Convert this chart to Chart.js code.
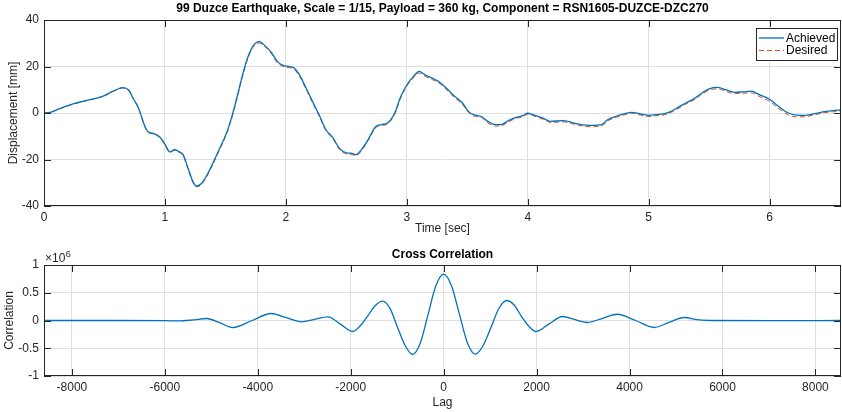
<!DOCTYPE html>
<html>
<head>
<meta charset="utf-8">
<script src="https://cdn.jsdelivr.net/npm/chart.js@4.4.1/dist/chart.umd.min.js"></script>
<style>
  html, body { margin: 0; padding: 0; background: #ffffff; }
  #wrap { position: relative; width: 842px; height: 412px; overflow: hidden; }
  canvas { position: absolute; left: 0; }
  #c1 { top: 0; }
  #c2 { top: 236px; }
</style>
</head>
<body>
<div id="wrap">
  <canvas id="c1" width="842" height="236"></canvas>
  <canvas id="c2" width="842" height="176"></canvas>
</div>
<script>
// ---------- Data ----------
const timeSec = [
  0, 0.05, 0.13, 0.24, 0.32, 0.41, 0.49, 0.54, 0.60, 0.65,
  0.70, 0.74, 0.78, 0.80, 0.83, 0.86, 0.91, 0.96, 1.00, 1.04,
  1.08, 1.12, 1.15, 1.19, 1.23, 1.26, 1.30, 1.34, 1.40, 1.45,
  1.51, 1.55, 1.59, 1.63, 1.66, 1.69, 1.73, 1.78, 1.82, 1.88,
  1.93, 1.99, 2.06, 2.11, 2.17, 2.22, 2.28, 2.33, 2.39, 2.44,
  2.50, 2.54, 2.58, 2.62, 2.68, 2.74, 2.79, 2.84, 2.90, 2.95,
  3.01, 3.06, 3.10, 3.16, 3.21, 3.28, 3.34, 3.39, 3.46, 3.51,
  3.55, 3.62, 3.67, 3.73, 3.78, 3.84, 3.90, 3.96, 4.00, 4.04,
  4.12, 4.19, 4.29, 4.36, 4.44, 4.52, 4.61, 4.66, 4.73, 4.80,
  4.86, 4.93, 5.01, 5.06, 5.13, 5.18, 5.24, 5.31, 5.38, 5.43,
  5.50, 5.57, 5.64, 5.71, 5.78, 5.85, 5.91, 6.00, 6.07, 6.15,
  6.22, 6.29, 6.37, 6.45, 6.52, 6.59
];
const achievedMm = [
  0, 0.3, 1.9, 3.9, 5.0, 6.1, 7.3, 8.6, 10.1, 10.9,
  9.9, 6.0, 2.4, -0.6, -5.2, -8.1, -8.9, -10.4, -13.4, -16.7,
  -15.8, -16.7, -17.9, -23.6, -29.3, -31.4, -30.4, -27.4, -21.2, -15.5,
  -8.5, -2.1, 5.6, 14.0, 19.8, 24.6, 29.0, 30.7, 29.3, 26.1,
  22.1, 20.3, 19.6, 16.6, 10.4, 5.0, -1.4, -7.1, -10.7, -15.0,
  -17.1, -17.3, -17.9, -16.1, -11.4, -6.0, -5.0, -4.3, 0.0, 7.1,
  12.9, 16.0, 17.9, 16.1, 15.0, 12.9, 10.0, 7.4, 4.3, 0.7,
  -0.7, -1.6, -3.6, -5.0, -5.0, -3.3, -1.9, -1.1, -0.1, -0.7,
  -2.1, -3.6, -3.3, -4.0, -5.0, -5.3, -5.0, -2.9, -1.4, -0.3,
  0.3, -0.4, -1.0, -0.7, -0.3, 0.6, 2.3, 4.4, 6.3, 8.3,
  10.4, 11.0, 9.9, 8.9, 9.1, 9.4, 8.0, 5.9, 3.0, 0.1,
  -0.9, -1.0, -0.3, 0.6, 1.0, 1.3
];
const desiredMm = [
  0, 0.2, 1.8, 3.8, 4.9, 6.0, 7.2, 8.4, 9.9, 10.7,
  9.8, 5.8, 2.0, -0.9, -5.5, -8.3, -9.1, -10.7, -13.7, -17.0,
  -16.1, -17.0, -18.3, -24.0, -29.8, -31.8, -30.8, -27.9, -21.7, -16.0,
  -9.0, -2.7, 5.0, 13.4, 19.3, 24.1, 28.5, 30.1, 28.8, 25.5,
  21.5, 19.8, 19.0, 16.0, 9.9, 4.4, -1.9, -7.6, -11.2, -15.5,
  -17.6, -17.8, -18.3, -16.6, -11.9, -6.5, -5.4, -4.8, -0.5, 6.6,
  12.3, 15.4, 17.2, 15.5, 14.4, 12.3, 9.4, 6.8, 3.7, 0.2,
  -1.2, -2.1, -4.2, -5.6, -5.5, -3.8, -2.4, -1.6, -0.5, -1.1,
  -2.6, -4.1, -3.8, -4.5, -5.5, -5.9, -5.6, -3.4, -1.9, -0.8,
  -0.1, -0.9, -1.5, -1.2, -0.8, 0.1, 1.8, 3.9, 5.8, 7.7,
  9.8, 10.4, 9.3, 8.3, 8.5, 8.7, 7.2, 5.0, 2.1, -0.7,
  -1.6, -1.6, -0.8, 0.1, 0.5, 0.8
];

const lagSamples = [
  -8600, -7000, -6000, -5700, -5400, -5100, -4820, -4540, -4120, -3710,
  -3380, -3060, -2780, -2490, -2230, -1955, -1800, -1640, -1470, -1310,
  -1150, -990, -830, -670, -500, -335, -170, 0, 170, 340,
  510, 680, 850, 1020, 1190, 1360, 1515, 1670, 1830, 1985,
  2270, 2557, 2830, 3094, 3420, 3738, 4130, 4527, 4850, 5171,
  5500, 5800, 7000, 8600
];
const correlation = [
  0, 0, -2000, -8000, 10000, 36000, -40000, -127000, 0, 126000,
  50000, -25000, 20000, 65000, -60000, -198000, -100000, 75000, 270000, 348000,
  210000, -130000, -450000, -613000, -400000, 110000, 620000, 834000, 620000, 110000,
  -400000, -607000, -450000, -120000, 220000, 360000, 280000, 80000, -100000, -198000,
  -60000, 72000, 15000, -36000, 40000, 113000, 0, -126000, -35000, 54000,
  10000, 0, -3000, 0
];

const timeTicks = [0, 1, 2, 3, 4, 5, 6];
const dispTicks = [-40, -20, 0, 20, 40];
const lagTicks = [-8000, -6000, -4000, -2000, 0, 2000, 4000, 6000, 8000];
const corrTicks = [-1000000, -500000, 0, 500000, 1000000];

const topTitle = '99 Duzce Earthquake, Scale = 1/15, Payload = 360 kg, Component = RSN1605-DUZCE-DZC270';
const bottomTitle = 'Cross Correlation';
const seriesNames = ['Achieved', 'Desired'];

// ---------- Styling ----------
const FONT = "'Liberation Sans', Arial, Helvetica, sans-serif";
const AXIS_COLOR = '#262626';
const GRID_COLOR = '#dfdfdf';
const BLUE = '#0072BD';
const ORANGE = '#D95319';
Chart.defaults.font.family = FONT;
Chart.defaults.font.size = 12;
Chart.defaults.color = AXIS_COLOR;

function setTicks(values) {
  return scale => { scale.ticks = values.map(v => ({ value: v })); };
}

// Box + inward tick marks like MATLAB axes
const boxTicks = {
  id: 'boxTicks',
  afterDraw(chart) {
    const { ctx, chartArea: a, scales } = chart;
    const L = 7;
    ctx.save();
    ctx.strokeStyle = AXIS_COLOR;
    ctx.lineWidth = 1;
    ctx.beginPath();
    scales.x.ticks.forEach(t => {
      const px = Math.round(scales.x.getPixelForValue(t.value)) + 0.5;
      ctx.moveTo(px, a.bottom); ctx.lineTo(px, a.bottom - L);
      ctx.moveTo(px, a.top); ctx.lineTo(px, a.top + L);
    });
    scales.y.ticks.forEach(t => {
      const py = Math.round(scales.y.getPixelForValue(t.value)) + 0.5;
      ctx.moveTo(a.left, py); ctx.lineTo(a.left + L, py);
      ctx.moveTo(a.right, py); ctx.lineTo(a.right - L, py);
    });
    ctx.stroke();
    const l = Math.round(a.left) + 0.5, tp = Math.round(a.top) + 0.5;
    const r = Math.round(a.right) - 0.5, b = Math.round(a.bottom) - 0.5;
    ctx.strokeRect(l, tp, r - l, b - tp);
    ctx.restore();
  }
};

// Legend box inside the top axes (north-east)
const boxLegend = {
  id: 'boxLegend',
  afterDraw(chart) {
    const { ctx, chartArea: a } = chart;
    const w = 81, h = 32;
    const x = Math.round(a.right - 4 - w) + 0.5;
    const y = Math.round(a.top + 8) + 0.5;
    ctx.save();
    ctx.fillStyle = '#ffffff';
    ctx.fillRect(x, y, w, h);
    ctx.strokeStyle = AXIS_COLOR;
    ctx.lineWidth = 1;
    ctx.strokeRect(x, y, w, h);
    chart.data.datasets.forEach((ds, i) => {
      const ly = y + 9.5 + i * 12.5;
      ctx.strokeStyle = ds.borderColor;
      ctx.lineWidth = ds.borderWidth;
      ctx.setLineDash(ds.borderDash || []);
      ctx.beginPath();
      ctx.moveTo(x + 2.5, ly); ctx.lineTo(x + 27.5, ly);
      ctx.stroke();
      ctx.setLineDash([]);
      ctx.fillStyle = '#000000';
      ctx.font = '12px ' + FONT;
      ctx.textBaseline = 'middle';
      ctx.textAlign = 'left';
      ctx.fillText(ds.label, x + 29.5, ly + 0.5);
    });
    ctx.restore();
  }
};

// x10^6 exponent label above bottom y axis
const exponentLabel = {
  id: 'exponentLabel',
  afterDraw(chart) {
    const { ctx, chartArea: a } = chart;
    ctx.save();
    ctx.fillStyle = AXIS_COLOR;
    ctx.textBaseline = 'middle';
    ctx.textAlign = 'left';
    ctx.font = '12px ' + FONT;
    const base = '\u00d710';
    ctx.fillText(base, a.left + 1, a.top - 6);
    const w = ctx.measureText(base).width;
    ctx.font = '9px ' + FONT;
    ctx.fillText('6', a.left + 1 + w + 0.5, a.top - 10);
    ctx.restore();
  }
};

function fixedWidth(w) { return s => { s.width = w; }; }
function fixedHeight(h) { return s => { s.height = h; }; }

// ---------- Top chart ----------
new Chart(document.getElementById('c1'), {
  type: 'line',
  data: {
    datasets: [
      {
        label: seriesNames[0],
        data: timeSec.map((t, i) => ({ x: t, y: achievedMm[i] })),
        borderColor: BLUE, borderWidth: 1.3, pointRadius: 0,
        cubicInterpolationMode: 'monotone', order: 1
      },
      {
        label: seriesNames[1],
        data: timeSec.map((t, i) => ({ x: t, y: desiredMm[i] })),
        borderColor: ORANGE, borderWidth: 1, borderDash: [5, 3], pointRadius: 0,
        cubicInterpolationMode: 'monotone', order: 2
      }
    ]
  },
  options: {
    responsive: false, animation: false, devicePixelRatio: 1,
    layout: { padding: { left: 0, right: 1, top: 0, bottom: 0 } },
    plugins: {
      legend: { display: false },
      tooltip: { enabled: false },
      title: {
        display: true, text: topTitle, fullSize: false, color: '#000000',
        font: { size: 12, weight: 'bold', family: FONT },
        padding: { top: 1, bottom: 4.6 }
      }
    },
    scales: {
      x: {
        type: 'linear', min: 0, max: 6.59,
        afterFit: fixedHeight(30),
        afterBuildTicks: setTicks(timeTicks),
        ticks: { autoSkip: false, maxRotation: 0, padding: 4, color: AXIS_COLOR, callback: v => String(v) },
        grid: { color: GRID_COLOR, drawTicks: false },
        border: { display: false },
        title: { display: true, text: 'Time [sec]', color: AXIS_COLOR, font: { size: 12 }, padding: { top: 0, bottom: 0 } }
      },
      y: {
        type: 'linear', min: -40, max: 40,
        afterFit: fixedWidth(44),
        afterBuildTicks: setTicks(dispTicks),
        ticks: { padding: 5, color: AXIS_COLOR, callback: v => String(v) },
        grid: { color: GRID_COLOR, drawTicks: false },
        border: { display: false },
        title: { display: true, text: 'Displacement [mm]', color: AXIS_COLOR, font: { size: 12 }, padding: { top: 6.5, bottom: 0 } }
      }
    }
  },
  plugins: [boxTicks, boxLegend]
});

// ---------- Bottom chart ----------
new Chart(document.getElementById('c2'), {
  type: 'line',
  data: {
    datasets: [
      {
        label: bottomTitle,
        data: lagSamples.map((l, i) => ({ x: l, y: correlation[i] })),
        borderColor: BLUE, borderWidth: 1.3, pointRadius: 0,
        cubicInterpolationMode: 'monotone'
      }
    ]
  },
  options: {
    responsive: false, animation: false, devicePixelRatio: 1,
    layout: { padding: { left: 0, right: 1, top: 0, bottom: 0 } },
    plugins: {
      legend: { display: false },
      tooltip: { enabled: false },
      title: {
        display: true, text: bottomTitle, fullSize: false, color: '#000000',
        font: { size: 12, weight: 'bold', family: FONT },
        padding: { top: 11.8, bottom: 2.8 }
      }
    },
    scales: {
      x: {
        type: 'linear', min: -8600, max: 8550,
        afterFit: fixedHeight(36),
        afterBuildTicks: setTicks(lagTicks),
        ticks: { autoSkip: false, maxRotation: 0, padding: 4, color: AXIS_COLOR, callback: v => String(v) },
        grid: { color: GRID_COLOR, drawTicks: false },
        border: { display: false },
        title: { display: true, text: 'Lag', color: AXIS_COLOR, font: { size: 12 }, padding: { top: 0, bottom: 2.5 } }
      },
      y: {
        type: 'linear', min: -1000000, max: 1000000,
        afterFit: fixedWidth(44),
        afterBuildTicks: setTicks(corrTicks),
        ticks: { padding: 5, color: AXIS_COLOR, callback: v => String(v / 1000000) },
        grid: { color: GRID_COLOR, drawTicks: false },
        border: { display: false },
        title: { display: true, text: 'Correlation', color: AXIS_COLOR, font: { size: 12 }, padding: { top: 2, bottom: 0 } }
      }
    }
  },
  plugins: [boxTicks, exponentLabel]
});
</script>
</body>
</html>
